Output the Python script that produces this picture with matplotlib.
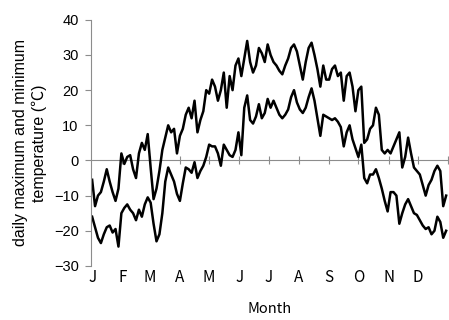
# =========================================================
# DAILY MAXIMUM / MINIMUM TEMPERATURE
# =========================================================

import matplotlib
matplotlib.use("Agg")

import matplotlib.pyplot as plt
import numpy as np


# =========================================================
# DATA (one value every 3 days)
# =========================================================

day_step = 3

t_max = [
    -5.5, -13, -10, -9, -6, -2.5, -6, -9, -11.5, -8,
    2, -1, 1, 1.5, -2.5, -5, 2, 5, 3, 7.5,
    -2, -11, -8, -3, 3, 6.5, 10, 8, 9, 2,
    7, 9, 13, 15, 12, 17, 8, 11.5, 14, 20,
    19, 23, 21, 17, 20, 25, 15, 24, 20, 27,
    29, 24, 29, 34, 28, 25, 27, 32, 30.5, 28,
    33, 30, 28, 27, 25.5, 24.5, 27, 29, 32, 33,
    31, 27, 23, 28, 32, 33.5, 30, 26, 21, 27,
    23, 23, 26, 27, 24, 25, 17, 24, 25, 21,
    14, 20, 21, 5, 6, 9, 10, 15, 13, 3,
    2, 3, 2, 4, 6, 8, -2, 1, 6.5, 2,
    -2, -3, -4, -7, -10, -7, -5.5, -3, -1.5, -3,
    -13, -10,
]

t_min = [
    -16, -19, -22, -23.5, -21, -19, -18.5, -20.5, -19.5, -24.5,
    -15, -13.5, -12.5, -14, -15, -17, -14, -16, -12.5, -10.5,
    -12, -18, -23, -21, -15, -6, -2, -4, -6, -9.5,
    -11.5, -6.5, -2, -2.5, -3.5, -0.5, -5, -3, -1.5, 1,
    4.5, 4, 4, 2, -1.5, 4.5, 3, 1.5, 1, 3,
    8, 1.5, 15, 18.5, 11.5, 10.5, 12.5, 16, 12, 13.5,
    17.5, 15, 17, 15, 13, 12, 13, 14.5, 18, 20,
    16.5, 14.5, 13.5, 15, 18, 20.5, 17, 12, 7, 13,
    12.5, 12, 11.5, 12, 11, 9.5, 4, 8, 10, 6,
    3.5, 1, 4.5, -5, -6.5, -4, -4, -2.5, -5, -8,
    -11.5, -14.5, -9, -9, -10, -18, -15, -12.5, -11, -13,
    -15, -15.5, -17, -18.5, -19.5, -19, -21, -20, -16, -17.5,
    -22, -20,
]

month_labels = ["J", "F", "M", "A", "M", "J", "J", "A", "S", "O", "N", "D"]
month_days = [31, 28, 31, 30, 31, 30, 31, 31, 30, 31, 30, 31]

days = np.arange(len(t_max)) * day_step
month_starts = np.concatenate([[0], np.cumsum(month_days)])


# =========================================================
# FIGURE
# =========================================================

fig = plt.figure(figsize=(4.49, 3.20), dpi=100)

ax = fig.add_axes([0.203, 0.169, 0.795, 0.769])

ax.plot(days, t_max, color="black", linewidth=1.8)
ax.plot(days, t_min, color="black", linewidth=1.8)

ax.set_xlim(-1, 365)
ax.set_ylim(-30, 40)


# =========================================================
# AXES STYLE
# =========================================================

axis_grey = "#8c8c8c"

for side in ["top", "right", "bottom"]:
    ax.spines[side].set_visible(False)

ax.spines["left"].set_color(axis_grey)
ax.spines["left"].set_linewidth(0.8)

ax.set_yticks(np.arange(-30, 41, 10))
ax.set_yticklabels(
    [f"{v}".replace("-", "\u2212") for v in range(-30, 41, 10)],
    family="Liberation Sans",
    fontsize=10.5
)
ax.tick_params(axis="y", length=4, width=0.8, color=axis_grey, pad=5)

# month letters under the plot
ax.set_xticks(month_starts[:-1])
ax.set_xticklabels(month_labels, family="Noto Sans CJK JP", fontsize=11)
ax.tick_params(axis="x", length=0, pad=2)

ax.set_xlabel("Month", family="Noto Sans CJK JP", fontsize=10.5, labelpad=12)

ax.set_ylabel(
    "daily maximum and minimum\ntemperature (\u2103)",
    family=["Liberation Sans", "Noto Sans CJK JP"],
    fontsize=11.5,
    linespacing=1.3,
    labelpad=5
)

# zero line with month ticks
zero_axis = ax.secondary_xaxis(0, transform=ax.transData)
zero_axis.set_xticks(month_starts[1:])
zero_axis.set_xticklabels([])
zero_axis.spines["bottom"].set_color(axis_grey)
zero_axis.spines["bottom"].set_linewidth(0.8)
zero_axis.tick_params(
    axis="x",
    direction="inout",
    length=6,
    width=0.8,
    color=axis_grey
)


# =========================================================
# SAVE
# =========================================================

fig.savefig("out.png", dpi=100)

plt.close(fig)
